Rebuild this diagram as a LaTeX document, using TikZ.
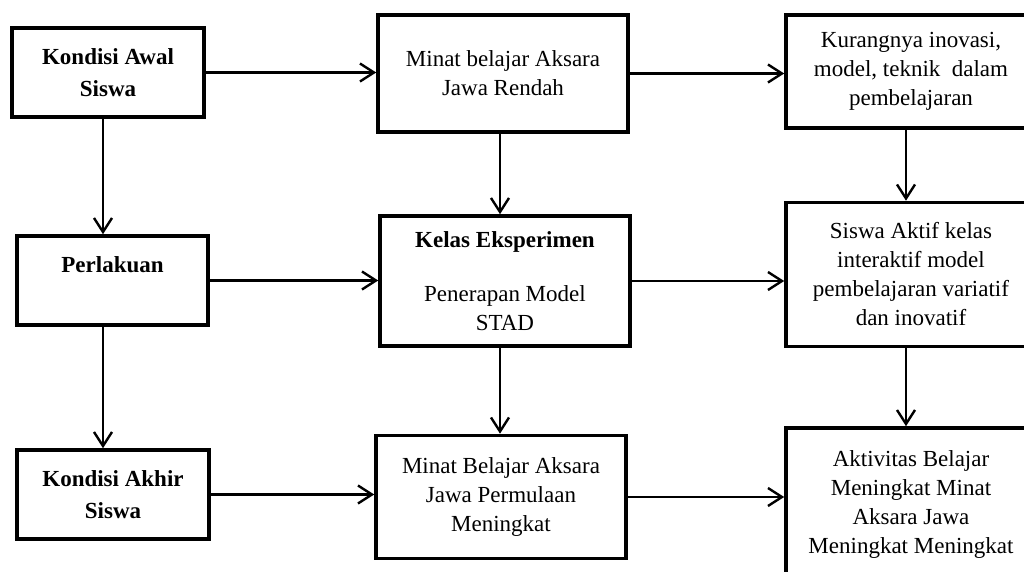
\documentclass[tikz,border=0pt]{standalone}
\usepackage{fontspec}
\setmainfont{Liberation Serif}
\usepackage{tikz}
\usetikzlibrary{arrows.meta}

\begin{document}
\begin{tikzpicture}[x=0.5pt,y=-0.5pt,
  kotak/.style={draw=black,line width=1.8pt,align=center,inner sep=0pt,
    font=\fontsize{11.5pt}{14.5pt}\selectfont},
  kotakb/.style={kotak,font=\fontsize{11.5pt}{16pt}\selectfont\bfseries},
  panah/.style={black,line width=1.2pt,-{Straight Barb[length=7pt,width=9pt,line width=1.2pt]}}]
\clip (0,0) rectangle (1024,572);

\node[kotakb,minimum width=96pt,minimum height=44.5pt] (k1) at (108,72.5) {Kondisi Awal\\Siswa};
\node[kotakb,minimum width=95.5pt,minimum height=44.5pt] (k4) at (112.5,280.5) {Perlakuan\\ \mbox{}};
\node[kotakb,minimum width=96pt,minimum height=44.5pt] (k7) at (113,494.5) {Kondisi Akhir\\Siswa};

\node[kotak,minimum width=125pt,minimum height=58.5pt] (k2) at (503,73.5) {Minat belajar Aksara\\Jawa Rendah};
\node[kotak,minimum width=125pt,minimum height=65pt] (k5) at (505,281) {\textbf{Kelas Eksperimen}\\[-1pt] \mbox{}\\[-1pt] Penerapan Model\\STAD};
\node[kotak,minimum width=125pt,minimum height=61.5pt] (k8) at (501,497) {Minat Belajar Aksara\\Jawa Permulaan\\Meningkat};

\node[kotak,minimum width=125pt,minimum height=56.5pt] (k3) at (911,71.5) {Kurangnya inovasi,\\model, teknik~ dalam\\pembelajaran};
\node[kotak,minimum width=125pt,minimum height=72pt] (k6) at (911,274.5) {Siswa Aktif kelas\\interaktif model\\pembelajaran variatif\\dan inovatif};
\node[kotak,minimum width=125pt,minimum height=77pt] (k9) at (911,505) {Aktivitas Belajar\\Meningkat Minat\\Aksara Jawa\\Meningkat Meningkat};

\coordinate (lx) at (103,0);
\coordinate (mx) at (500,0);
\coordinate (rx) at (906,0);

\draw[panah] (k1.east) -- (k1.east -| k2.west);
\draw[panah] (k2.east) -- (k2.east -| k3.west);
\draw[panah] (k4.east) -- (k4.east -| k5.west);
\draw[panah] (k5.east) -- (k5.east -| k6.west);
\draw[panah] (k7.east) -- (k7.east -| k8.west);
\draw[panah] (k8.east) -- (k8.east -| k9.west);

\draw[panah] (k1.south -| lx) -- (k4.north -| lx);
\draw[panah] (k4.south -| lx) -- (k7.north -| lx);
\draw[panah] (k2.south -| mx) -- (k5.north -| mx);
\draw[panah] (k5.south -| mx) -- (k8.north -| mx);
\draw[panah] (k3.south -| rx) -- (k6.north -| rx);
\draw[panah] (k6.south -| rx) -- (k9.north -| rx);
\end{tikzpicture}
\end{document}
